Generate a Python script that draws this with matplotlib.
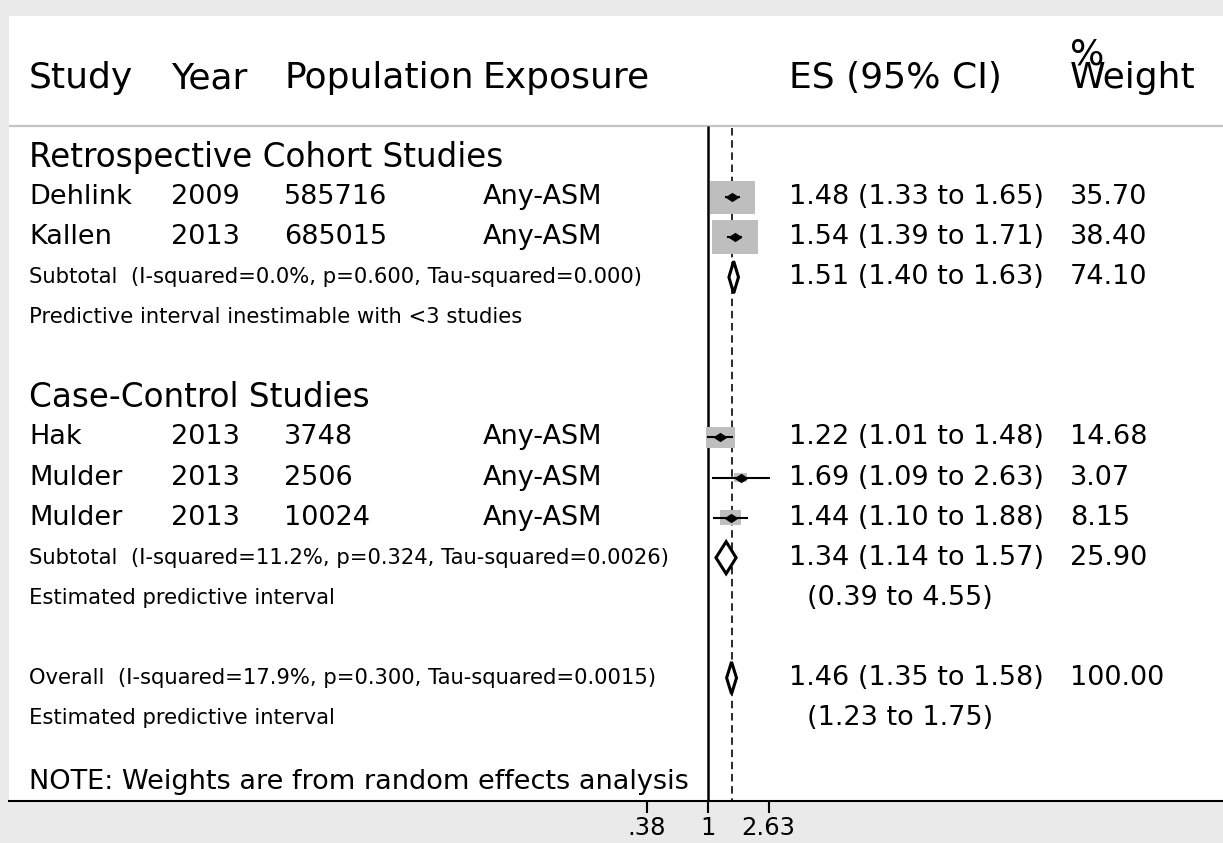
import numpy as np
import matplotlib.pyplot as plt
from matplotlib.patches import Rectangle, Polygon
from matplotlib.transforms import blended_transform_factory
from matplotlib.ticker import NullLocator

# --- data ---
headers = ["Study", "Year", "Population", "Exposure"]
groups = ["Retrospective Cohort Studies", "Case-Control Studies"]
group_rows = [0, 6]

studies = ["Dehlink", "Kallen", "Hak", "Mulder", "Mulder"]
years = [2009, 2013, 2013, 2013, 2013]
population = [585716, 685015, 3748, 2506, 10024]
exposure = ["Any-ASM", "Any-ASM", "Any-ASM", "Any-ASM", "Any-ASM"]
es = [1.48, 1.54, 1.22, 1.69, 1.44]
lo = [1.33, 1.39, 1.01, 1.09, 1.10]
hi = [1.65, 1.71, 1.48, 2.63, 1.88]
weights = [35.70, 38.40, 14.68, 3.07, 8.15]
study_rows = [1, 2, 7, 8, 9]

pooled_labels = [
    "Subtotal  (I-squared=0.0%, p=0.600, Tau-squared=0.000)",
    "Subtotal  (I-squared=11.2%, p=0.324, Tau-squared=0.0026)",
    "Overall  (I-squared=17.9%, p=0.300, Tau-squared=0.0015)",
]
pooled_es = [1.51, 1.34, 1.46]
pooled_lo = [1.40, 1.14, 1.35]
pooled_hi = [1.63, 1.57, 1.58]
pooled_w = [74.10, 25.90, 100.00]
pooled_rows = [3, 10, 13]

pi_labels = ["Predictive interval inestimable with <3 studies",
             "Estimated predictive interval", "Estimated predictive interval"]
pi_text = ["", "(0.39 to 4.55)", "(1.23 to 1.75)"]
pi_rows = [4, 11, 14]

note = "NOTE: Weights are from random effects analysis"
note_row = 15.6
xticks = [0.38, 1, 2.63]
xticklabels = [".38", "1", "2.63"]

# --- layout (pixels) ---
W, H = 1223, 843
row0, row_h = 157, 40.07      # pixel y of row 0, row spacing
k = 63.0                      # pixels per ln unit
x_one = 707.7                 # pixel x of ES = 1
ax_left, ax_top, ax_bot = 9, 16, 801

plt.rcParams['font.family'] = 'DejaVu Sans'

fig = plt.figure(figsize=(W / 100, H / 100), dpi=100, facecolor='#eaeaea')
ax = fig.add_axes([ax_left / W, (H - ax_bot) / H, (W - ax_left) / W, (ax_bot - ax_top) / H])
ax.set_facecolor('white')
ax.set_xscale('log')
ax.set_xlim(np.exp((ax_left - x_one) / k), np.exp((W - x_one) / k))
y_bottom = (ax_bot - row0) / row_h
y_top = (ax_top - row0) / row_h
ax.set_ylim(y_bottom, y_top)

for s in ['left', 'right', 'top']:
    ax.spines[s].set_visible(False)
ax.spines['bottom'].set_linewidth(1.5)
ax.set_yticks([])
ax.set_xticks(xticks)
ax.set_xticklabels(xticklabels)
ax.xaxis.set_minor_locator(NullLocator())
ax.tick_params(axis='x', direction='out', length=8.5, width=1.5, labelsize=17.5, pad=2.5)

tr = blended_transform_factory(fig.transFigure, ax.transData)
col_x = [29, 171, 284, 483]
es_x, w_x, pi_x = 789, 1070, 807

# header
header_y = -1.97
for name, cx in zip(headers, col_x):
    ax.text(cx / W, header_y, name, transform=tr, fontsize=26, va='center')
ax.text(es_x / W, header_y, "ES (95% CI)", transform=tr, fontsize=26, va='center')
ax.text(w_x / W, header_y, "Weight", transform=tr, fontsize=26, va='center')
ax.text(w_x / W, -2.55, "%", transform=tr, fontsize=26, va='center')
ax.axhline(-0.775, color='#c4c4c4', lw=1.6)

# reference lines
ax.vlines(1, -0.775, y_bottom, color='black', lw=1.8, zorder=2)
ax.vlines(pooled_es[-1], -0.72, y_bottom, color='#222222', lw=1.35,
          linestyles=(0, (4, 2.5)), zorder=1)

for g, r in zip(groups, group_rows):
    ax.text(col_x[0] / W, r, g, transform=tr, fontsize=23.5, va='center')

# individual studies
diamond = [(-1, 0), (0, 0.65), (1, 0), (0, -0.65), (-1, 0)]
for i, r in enumerate(study_rows):
    vals = [studies[i], str(years[i]), str(population[i]), exposure[i]]
    for v, cx in zip(vals, col_x):
        ax.text(cx / W, r, v, transform=tr, fontsize=19.5, va='center')
    ax.text(es_x / W, r, f"{es[i]:.2f} ({lo[i]:.2f} to {hi[i]:.2f})",
            transform=tr, fontsize=19.5, va='center')
    ax.text(w_x / W, r, f"{weights[i]:.2f}", transform=tr, fontsize=19.5, va='center')

    bw = 7.5 * np.sqrt(weights[i]) / k
    bh = 5.5 * np.sqrt(weights[i]) / row_h
    ax.add_patch(Rectangle((es[i] * np.exp(-bw / 2), r - bh / 2),
                           es[i] * (np.exp(bw / 2) - np.exp(-bw / 2)), bh,
                           facecolor='#bebebe', edgecolor='none', zorder=3))
    ax.plot([lo[i], hi[i]], [r, r], color='black', lw=1.5, zorder=4)
    ax.plot(es[i], r, marker=diamond, markersize=8.5, color='black', zorder=5)

# pooled estimates
for i, r in enumerate(pooled_rows):
    ax.text(col_x[0] / W, r, pooled_labels[i], transform=tr, fontsize=15.2, va='center')
    ax.text(es_x / W, r, f"{pooled_es[i]:.2f} ({pooled_lo[i]:.2f} to {pooled_hi[i]:.2f})",
            transform=tr, fontsize=19.5, va='center')
    ax.text(w_x / W, r, f"{pooled_w[i]:.2f}", transform=tr, fontsize=19.5, va='center')
    h = 0.4
    ax.add_patch(Polygon([(pooled_lo[i], r), (pooled_es[i], r - h),
                          (pooled_hi[i], r), (pooled_es[i], r + h)],
                         closed=True, facecolor='white', edgecolor='black',
                         lw=2.2, zorder=4))

# predictive intervals
for lab, txt, r in zip(pi_labels, pi_text, pi_rows):
    ax.text(col_x[0] / W, r, lab, transform=tr, fontsize=15.2, va='center')
    if txt:
        ax.text(pi_x / W, r, txt, transform=tr, fontsize=19.5, va='center')

ax.text(col_x[0] / W, note_row, note, transform=tr, fontsize=19.5, va='center')

fig.savefig("out.png", dpi=100, facecolor=fig.get_facecolor())
